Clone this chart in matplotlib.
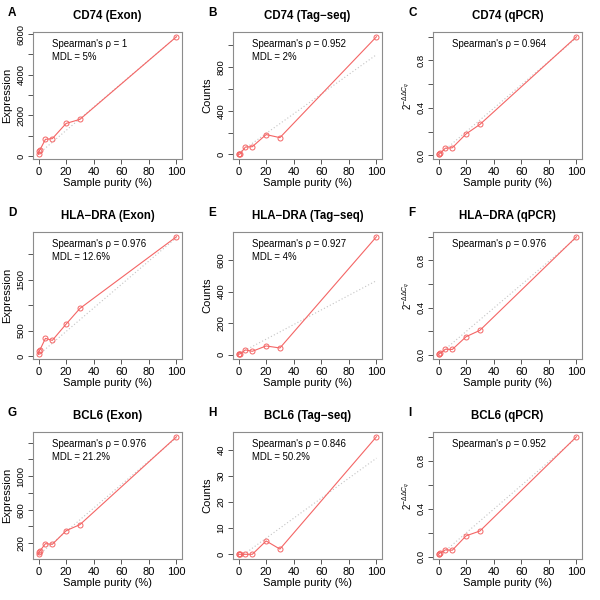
import numpy as np
import matplotlib
matplotlib.use("Agg")
import matplotlib.pyplot as plt

plt.rcParams['font.family'] = ['Liberation Sans', 'DejaVu Sans']
plt.rcParams['mathtext.fontset'] = 'custom'
plt.rcParams['mathtext.rm'] = 'Liberation Sans'
plt.rcParams['mathtext.it'] = 'Liberation Sans:italic'

purity = [0, 0.5, 1, 5, 10, 20, 30, 100]

letters = ["A", "B", "C", "D", "E", "F", "G", "H", "I"]
titles = ["CD74 (Exon)", "CD74 (Tag\u2212seq)", "CD74 (qPCR)",
          "HLA\u2212DRA (Exon)", "HLA\u2212DRA (Tag\u2212seq)", "HLA\u2212DRA (qPCR)",
          "BCL6 (Exon)", "BCL6 (Tag\u2212seq)", "BCL6 (qPCR)"]
ylabels = ["Expression", "Counts", r"$2^{-\Delta\Delta C_q}$"] * 3

cd74_exon = [80, 245, 295, 817, 850, 1600, 1800, 5870]
cd74_tag = [0, 0, 2, 67, 70, 181, 153, 1080]
cd74_qpcr = [0.008, 0.010, 0.015, 0.060, 0.063, 0.180, 0.260, 1.0]
hla_exon = [33, 98, 118, 346, 307, 627, 935, 2346]
hla_tag = [2, 3, 4, 30, 21, 55, 42, 748]
hla_qpcr = [0.005, 0.010, 0.012, 0.048, 0.046, 0.154, 0.208, 1.0]
bcl6_exon = [68, 92, 107, 195, 187, 350, 422, 1472]
bcl6_tag = [0, 0, 0, 0, 0, 5.1, 2.0, 45]
bcl6_qpcr = [0.020, 0.025, 0.030, 0.057, 0.054, 0.174, 0.214, 1.0]

series = [cd74_exon, cd74_tag, cd74_qpcr, hla_exon, hla_tag, hla_qpcr,
          bcl6_exon, bcl6_tag, bcl6_qpcr]

# reference (dotted) fit lines: value at purity 0 and at purity 100
fit_at_0 = [100, 10, 0.0, 20, 5, 0.0, 60, -1.5, 0.0]
fit_at_100 = [5870, 915, 0.99, 2330, 469, 0.99, 1460, 36.8, 0.99]

spearman = ["1", "0.952", "0.964", "0.976", "0.927", "0.976", "0.976", "0.846", "0.952"]
mdl = ["5%", "2%", None, "12.6%", "4%", None, "21.2%", "50.2%", None]

yticks = [[0, 1000, 2000, 3000, 4000, 5000, 6000],
          [0, 200, 400, 600, 800, 1000],
          [0, 0.2, 0.4, 0.6, 0.8, 1.0],
          [0, 500, 1000, 1500, 2000],
          [0, 200, 400, 600],
          [0, 0.2, 0.4, 0.6, 0.8, 1.0],
          [200, 400, 600, 800, 1000, 1200, 1400],
          [0, 10, 20, 30, 40],
          [0, 0.2, 0.4, 0.6, 0.8, 1.0]]
ytlabels = [["0", "", "2000", "", "4000", "", "6000"],
            ["0", "", "400", "", "800", ""],
            ["0.0", "", "0.4", "", "0.8", ""],
            ["0", "500", "", "1500", ""],
            ["0", "200", "400", "600"],
            ["0.0", "", "0.4", "", "0.8", ""],
            ["200", "", "600", "", "1000", "", ""],
            ["0", "10", "20", "30", "40"],
            ["0.0", "", "0.4", "", "0.8", ""]]
xticks = [0, 20, 40, 60, 80, 100]

red = "#F46565"
gray_box = "#8C8C8C"

fig = plt.figure(figsize=(6, 6), dpi=100)
W = H = 600.0
lefts = [33, 233, 433]
tops = [32, 232, 432]
aw, ah = 149, 127

for i in range(9):
    r, c = divmod(i, 3)
    ax = fig.add_axes([lefts[c] / W, 1 - (tops[r] + ah) / H, aw / W, ah / H])
    y = np.array(series[i], dtype=float)
    x = np.array(purity, dtype=float)
    ymin, ymax = y.min(), y.max()
    pad = 0.04 * (ymax - ymin)
    ax.set_xlim(-4, 104)
    ax.set_ylim(ymin - pad, ymax + pad)

    ax.plot([0, 100], [fit_at_0[i], fit_at_100[i]], color="#C4C4C4",
            lw=0.8, ls=(0, (1, 2)), zorder=1)
    ax.plot(x, y, color=red, lw=0.8, marker="o", ms=3.6, mfc="none",
            mec=red, mew=0.7, zorder=2)

    for s in ax.spines.values():
        s.set_color(gray_box)
        s.set_linewidth(0.8)
    ax.set_xticks(xticks)
    ax.set_xticklabels([str(v) for v in xticks])
    ax.set_yticks(yticks[i])
    ax.set_yticklabels(ytlabels[i])
    ax.tick_params(axis="both", direction="out", length=3.5, width=0.7,
                   color="#555555", pad=2)
    ax.tick_params(axis="x", labelsize=8)
    ax.tick_params(axis="y", labelsize=6.8)
    for lab in ax.get_yticklabels():
        lab.set_rotation(90)
        lab.set_va("center")

    ax.set_xlabel("Sample purity (%)", fontsize=8)
    ax.xaxis.set_label_coords(0.5, -23.5 / ah)
    ax.xaxis.label.set_va("center")
    if c == 2:
        ax.set_ylabel(ylabels[i], fontsize=7)
    else:
        ax.set_ylabel(ylabels[i], fontsize=8)
    ax.yaxis.set_label_coords(-(33 - 7.5) / aw, 0.5)
    ax.yaxis.label.set_va("center")

    ax.set_title(titles[i], fontsize=8.3, fontweight="bold", pad=0, y=(ah + 16) / ah,
                 va="center")
    fig.text((lefts[c] - 25) / W, 1 - (tops[r] - 19) / H, letters[i],
             fontsize=8.5, fontweight="bold", ha="left", va="center")

    ax.text(0.125, 0.903, "Spearman's \u03c1 = " + spearman[i], transform=ax.transAxes,
            fontsize=6.9, ha="left", va="center")
    if mdl[i] is not None:
        ax.text(0.125, 0.80, "MDL = " + mdl[i], transform=ax.transAxes,
                fontsize=6.9, ha="left", va="center")

fig.savefig("out.png", dpi=100)
